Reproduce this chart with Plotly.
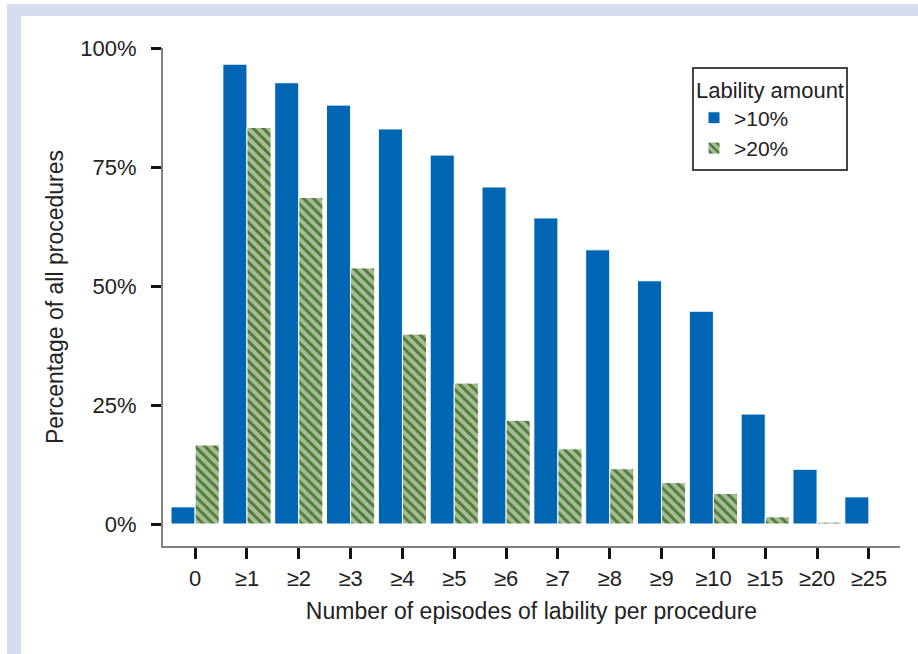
import plotly.graph_objects as go

# Episode-count categories on the x axis
categories = ["0", "≥1", "≥2", "≥3", "≥4", "≥5", "≥6", "≥7", "≥8", "≥9", "≥10", "≥15", "≥20", "≥25"]

# Percentage of all procedures, by lability amount
pct_over_10 = [3.6, 96.6, 92.7, 88.0, 83.0, 77.5, 70.8, 64.3, 57.6, 51.1, 44.7, 23.1, 11.5, 5.7]
pct_over_20 = [16.6, 83.3, 68.6, 53.8, 39.9, 29.6, 21.8, 15.8, 11.6, 8.7, 6.4, 1.5, 0.4, 0.1]

y_ticks = [0, 25, 50, 75, 100]
y_tick_labels = ["0%", "25%", "50%", "75%", "100%"]

W, H = 918, 654
ML, MR, MT, MB = 163, 18, 48, 108
PW, PH = W - ML - MR, H - MT - MB

FONT = "Liberation Sans, Arial, Helvetica, sans-serif"
TEXT = "#222222"


def px_x(x):
    return (x - ML) / PW


def px_y(y):
    return (H - MB - y) / PH


fig = go.Figure()
fig.add_trace(go.Bar(
    x=categories, y=pct_over_10, name=">10%",
    marker=dict(color="#0066b3", line=dict(color="white", width=1)),
))
fig.add_trace(go.Bar(
    x=categories, y=pct_over_20, name=">20%",
    marker=dict(
        color="#5a8a3e",
        line=dict(color="white", width=1),
        pattern=dict(shape="\\", fgcolor="#4a7c31", bgcolor="#a9ba99",
                     size=7, solidity=0.42, fillmode="replace"),
    ),
))

# light frame strips along the top and left edges of the page
band = "#d5ddef"
fig.add_shape(type="rect", xref="paper", yref="paper", layer="below",
              x0=px_x(7), x1=px_x(W), y0=px_y(16), y1=px_y(4),
              fillcolor=band, line=dict(width=0))
fig.add_shape(type="rect", xref="paper", yref="paper", layer="below",
              x0=px_x(7), x1=px_x(21), y0=px_y(H), y1=px_y(4),
              fillcolor=band, line=dict(width=0))

fig.update_layout(
    width=W, height=H,
    margin=dict(l=ML, r=MR, t=MT, b=MB, autoexpand=False),
    paper_bgcolor="white", plot_bgcolor="white",
    barmode="group", bargap=0.07, bargroupgap=0,
    font=dict(family=FONT, size=23, color=TEXT),
    showlegend=True,
    legend=dict(
        title=dict(text="Lability amount", font=dict(size=22, color=TEXT)),
        x=px_x(692), y=px_y(67), xanchor="left", yanchor="top",
        bgcolor="white", bordercolor="#444444", borderwidth=2,
        font=dict(size=21, color=TEXT),
        tracegroupgap=0,
    ),
    xaxis=dict(
        type="category", range=[-0.62, 13.6],
        showline=True, linecolor="#808080", linewidth=2,
        ticks="outside", ticklen=11, tickwidth=3, tickcolor="#111111",
        showgrid=False, zeroline=False,
        tickfont=dict(size=22, color=TEXT), ticklabelstandoff=1,
        title=dict(text="Number of episodes of lability per procedure",
                   font=dict(size=23, color=TEXT), standoff=12),
    ),
    yaxis=dict(
        range=[-4.62, 100], tickvals=y_ticks, ticktext=y_tick_labels,
        showline=True, linecolor="#808080", linewidth=2,
        ticks="outside", ticklen=10, tickwidth=2.5, tickcolor="#111111",
        showgrid=False, zeroline=False,
        tickfont=dict(size=22, color=TEXT), ticklabelstandoff=10,
        title=dict(text="Percentage of all procedures",
                   font=dict(size=23, color=TEXT), standoff=10),
    ),
)

fig.write_html("out.html")
